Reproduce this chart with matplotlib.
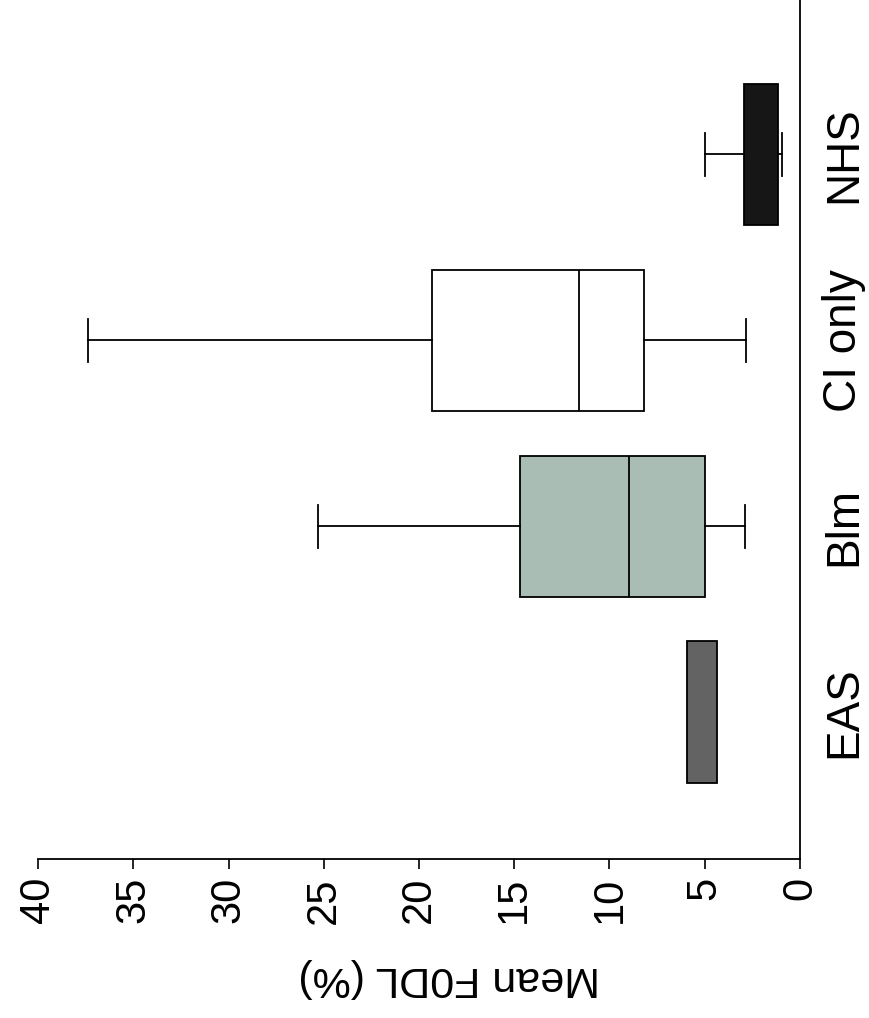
import matplotlib
matplotlib.use("Agg")
import matplotlib.pyplot as plt

plt.rcParams["font.family"] = ["Liberation Sans", "DejaVu Sans"]

# groups, bottom to top as drawn
groups = ["EAS", "Blm", "CI only", "NHS"]
q1 = [4.36, 4.99, 8.19, 1.15]
median = [5.1, 8.98, 11.6, 2.0]
q3 = [5.93, 14.70, 19.32, 2.94]
whislo = [4.36, 2.89, 2.83, 0.94]
whishi = [5.93, 25.3, 37.4, 5.0]
box_colors = ["#636363", "#a9bdb4", "#ffffff", "#161616"]
value_ticks = [0, 5, 10, 15, 20, 25, 30, 35, 40]

stats = []
for i, name in enumerate(groups):
    stats.append({"label": name, "q1": q1[i], "med": median[i], "q3": q3[i],
                  "whislo": whislo[i], "whishi": whishi[i], "fliers": []})

fig = plt.figure(figsize=(8.7, 10.18), dpi=100)
ax = fig.add_axes([38 / 870, 1 - 859 / 1018, (800 - 38) / 870, 859 / 1018])

positions = list(range(1, len(groups) + 1))
art = ax.bxp(stats, positions=positions, vert=False, widths=0.76,
             patch_artist=True, showfliers=False, capwidths=0.23,
             boxprops=dict(edgecolor="black", linewidth=1.3),
             whiskerprops=dict(color="black", linewidth=1.3),
             capprops=dict(color="black", linewidth=1.3),
             medianprops=dict(color="black", linewidth=1.3))
for patch, c in zip(art["boxes"], box_colors):
    patch.set_facecolor(c)
# EAS has no visible median or whiskers, NHS median is hidden in the dark box
art["medians"][0].set_visible(False)
art["medians"][3].set_visible(False)
for line in art["whiskers"][0:2] + art["caps"][0:2]:
    line.set_visible(False)

ax.set_xlim(40, 0)
ax.set_ylim(0.21, 4.83)
ax.set_xticks(value_ticks)
ax.set_xticklabels([str(v) for v in value_ticks], rotation=90, fontsize=30)
ax.tick_params(axis="x", direction="out", length=7, width=1.2, pad=6)

ax.yaxis.tick_right()
ax.set_yticks(positions)
ax.set_yticklabels(groups, rotation=90, fontsize=33, va="center")
ax.tick_params(axis="y", length=0, pad=16)

for side in ["top", "left"]:
    ax.spines[side].set_visible(False)
for side in ["bottom", "right"]:
    ax.spines[side].set_linewidth(1.3)

ax.set_xlabel("Mean F0DL (%)", fontsize=31, rotation=180, va="center")
ax.xaxis.set_label_coords(0.54, -0.138)

fig.savefig("out.png", dpi=100)
